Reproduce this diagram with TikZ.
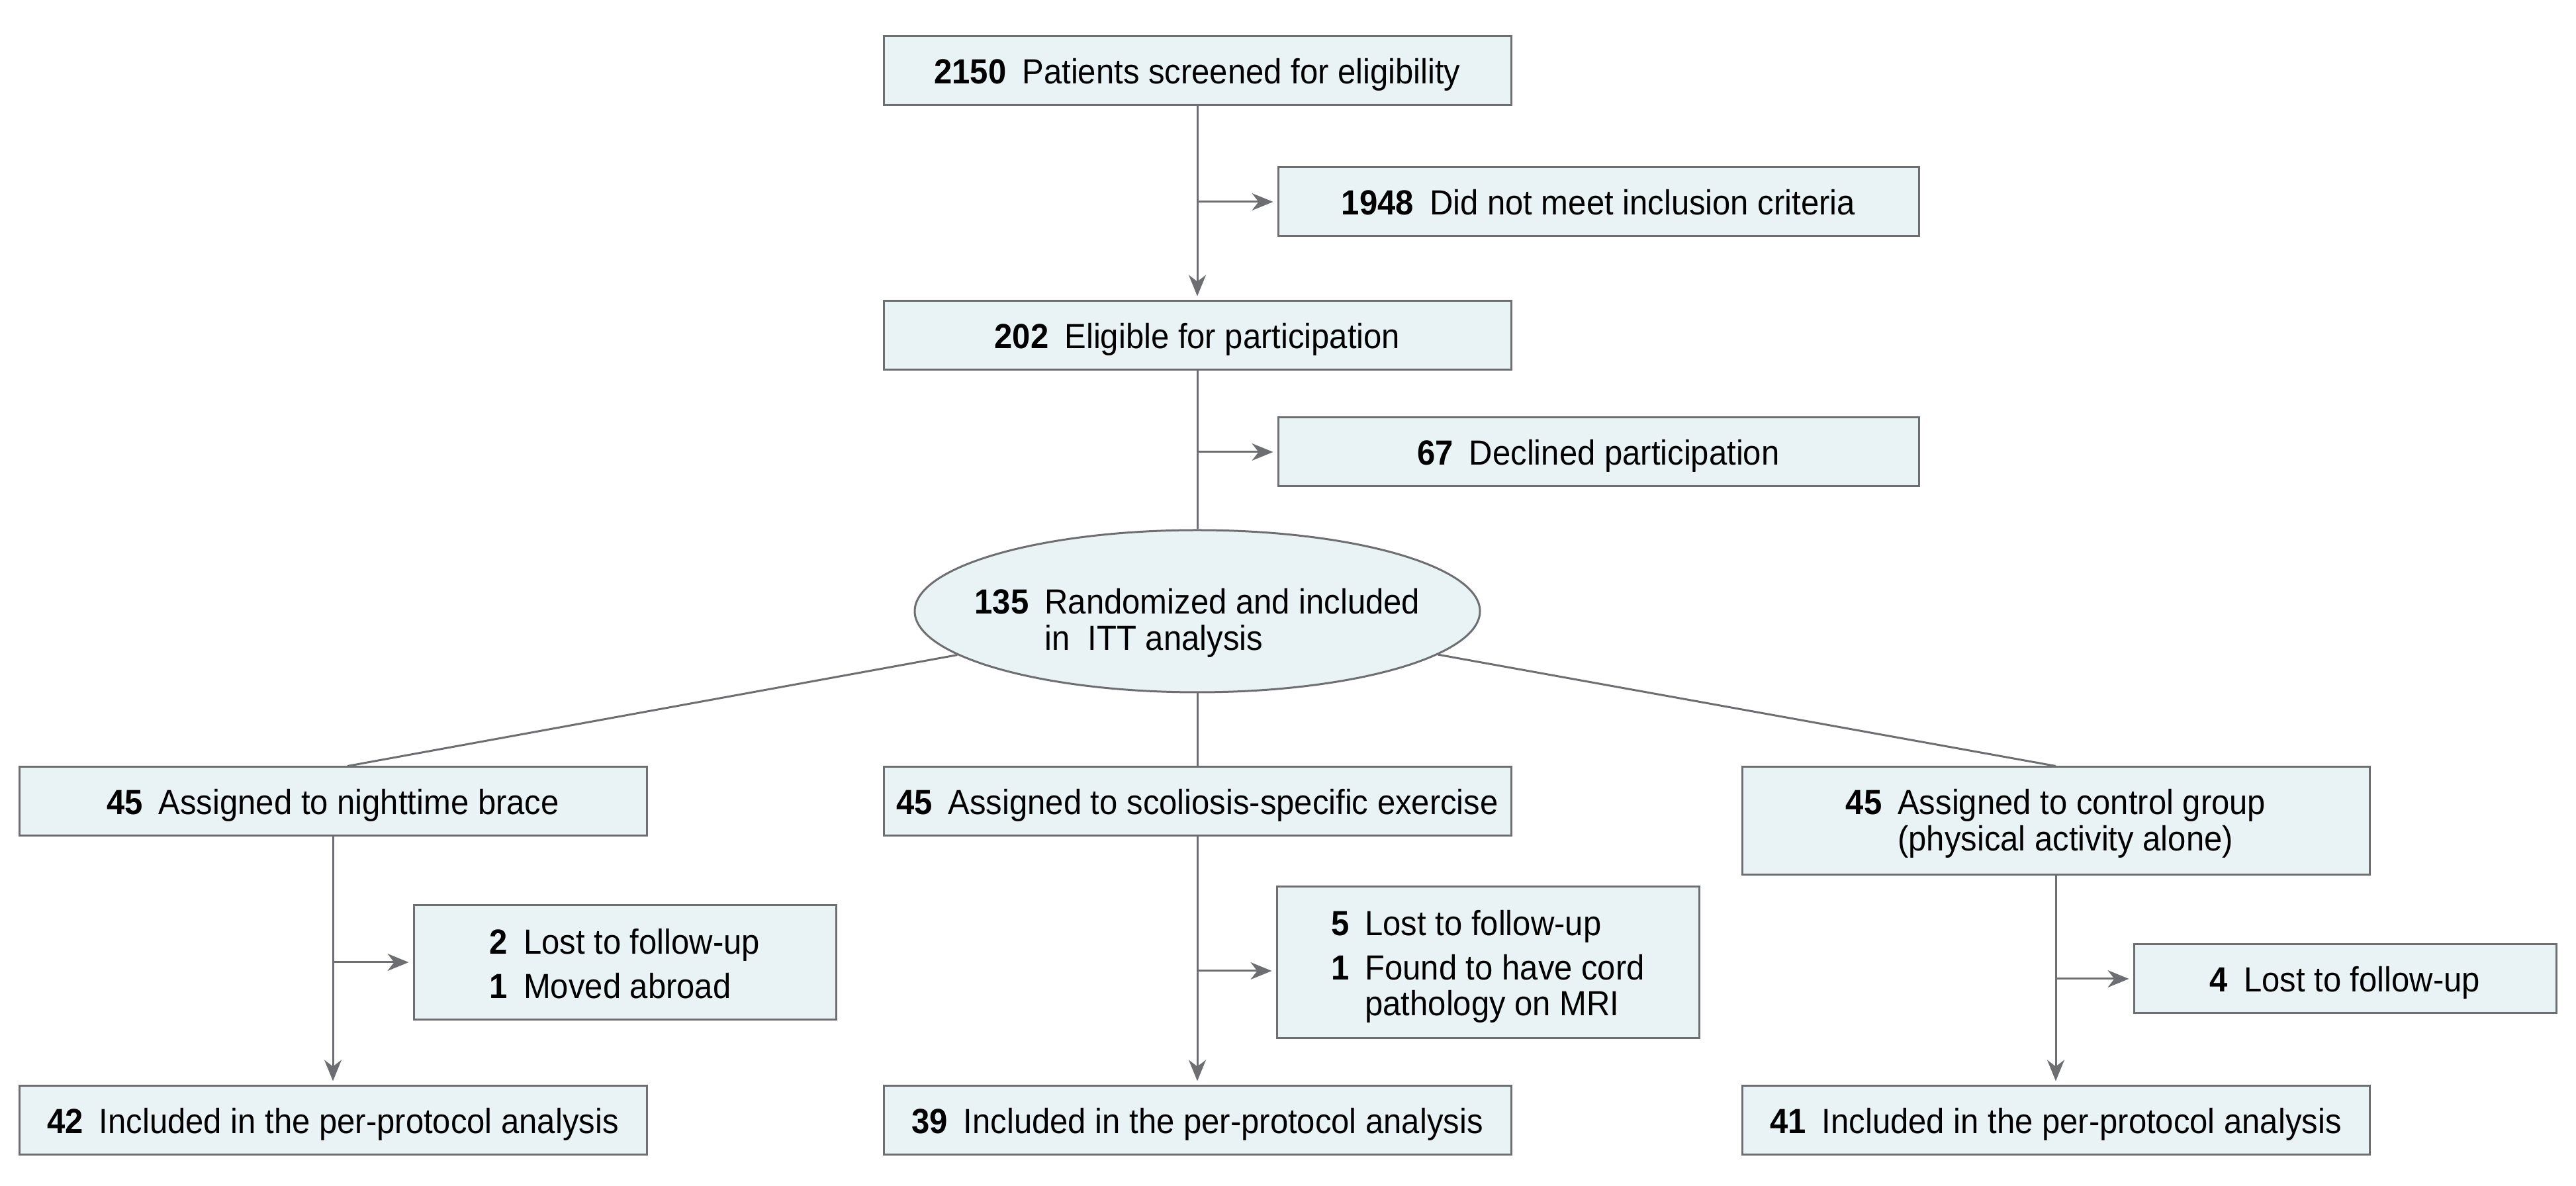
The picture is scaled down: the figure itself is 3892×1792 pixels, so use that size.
\documentclass[tikz,border=0pt]{standalone}
\usepackage{fontspec}
\setmainfont{Liberation Sans}[FakeStretch=0.93]
\usetikzlibrary{positioning, shapes.geometric, arrows.meta}
\definecolor{boxfill}{HTML}{E9F3F5}
\definecolor{linegray}{HTML}{6D6E71}

\begin{document}
\begin{tikzpicture}[x=0.1mm, y=-0.1mm,
    font=\fontsize{15pt}{15.6pt}\selectfont,
    box/.style={draw=linegray, fill=boxfill, line width=0.3mm, text depth=0pt,
        minimum width=94.8mm, minimum height=10.4mm, inner sep=0pt, align=center},
    side/.style={minimum width=63.8mm},
    oval/.style={ellipse, draw=linegray, fill=boxfill, line width=0.3mm, text depth=0.4pt,
        minimum width=85.4mm, minimum height=24.5mm, inner xsep=-5.5mm, inner ysep=0pt},
    link/.style={draw=linegray, line width=0.3mm},
    arr/.style={link, -{Stealth[length=3.2mm, width=2.6mm, inset=1mm]}, shorten >=0.6mm}]

    \useasboundingbox (0,0) rectangle (3892,1792);

    % enrollment
    \node[box] (screen) at (1809,107)
        {\textbf{2150}\hspace{2.4mm}Patients screened for eligibility};
    \node[box, below=29.3mm of screen] (elig)
        {\textbf{202}\hspace{2.4mm}Eligible for participation};
    \node[box, minimum width=96.8mm] (excl) at (2415,305)
        {\textbf{1948}\hspace{2.4mm}Did not meet inclusion criteria};
    \node[box, minimum width=96.8mm, below=27.1mm of excl] (decl)
        {\textbf{67}\hspace{2.4mm}Declined participation};
    \node[oval, below=23.9mm of elig] (rand)
        {\begin{tabular}{@{}l@{\hspace{2.4mm}}l@{}}
            \textbf{135} & Randomized and included\\
            & in\ \ ITT analysis
         \end{tabular}};

    % allocation
    \node[box, below=11mm of rand] (exer)
        {\textbf{45}\hspace{2.4mm}Assigned to scoliosis-specific exercise};
    \node[box, left=35.5mm of exer] (brace)
        {\textbf{45}\hspace{2.4mm}Assigned to nighttime brace};
    \node[box, right=34.6mm of exer.north east, anchor=north west,
          minimum height=16.3mm, text depth=8.2pt] (ctrl)
        {\begin{tabular}{@{}l@{\hspace{2.4mm}}l@{}}
            \textbf{45} & Assigned to control group\\
            & (physical activity alone)
         \end{tabular}};

    % losses
    \node[box, side, minimum height=17.3mm, text depth=7.9pt] (lostA) at (944,1454)
        {\begin{tabular}{@{}l@{\hspace{2.4mm}}l@{}}
            \textbf{2} & Lost to follow-up\\[1.2mm]
            \textbf{1} & Moved abroad
         \end{tabular}};
    \node[box, side, minimum height=22.9mm, text depth=16.3pt] (lostB) at (2248,1454)
        {\begin{tabular}{@{}l@{\hspace{2.4mm}}l@{}}
            \textbf{5} & Lost to follow-up\\[1.2mm]
            \textbf{1} & Found to have cord\\
            & pathology on MRI
         \end{tabular}};
    \node[box, side] (lostC) at (3543,1479)
        {\textbf{4}\hspace{2.4mm}Lost to follow-up};
    \coordinate[yshift=-1.3mm] (lostBin) at (lostB.west);

    % analysis
    \node[box, below=37.5mm of brace] (ppA)
        {\textbf{42}\hspace{2.4mm}Included in the per-protocol analysis};
    \node[box, below=37.5mm of exer] (ppB)
        {\textbf{39}\hspace{2.4mm}Included in the per-protocol analysis};
    \node[box, below=31.6mm of ctrl] (ppC)
        {\textbf{41}\hspace{2.4mm}Included in the per-protocol analysis};

    % connectors
    \draw[arr] (screen) -- (elig);
    \draw[arr] (screen.south |- excl.west) -- (excl.west);
    \draw[link] (elig) -- (rand);
    \draw[arr] (elig.south |- decl.west) -- (decl.west);
    \draw[link] (rand) -- ([xshift=2.2mm]brace.north);
    \draw[link] (rand) -- (exer);
    \draw[link] (rand) -- (ctrl.north);
    \draw[arr] (brace) -- (ppA);
    \draw[arr] (exer) -- (ppB);
    \draw[arr] (ctrl) -- (ppC);
    \draw[arr] (brace.south |- lostA.west) -- (lostA.west);
    \draw[arr] (exer.south |- lostBin) -- (lostBin);
    \draw[arr] (ctrl.south |- lostC.west) -- (lostC.west);
\end{tikzpicture}
\end{document}
